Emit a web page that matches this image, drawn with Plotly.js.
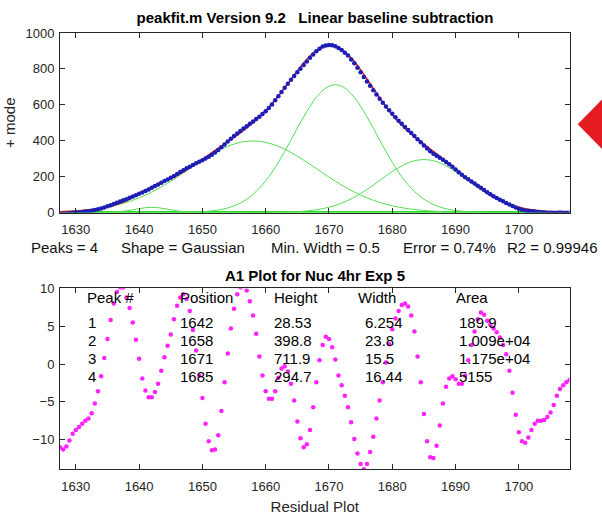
<!DOCTYPE html>
<html>
<head>
<meta charset="utf-8">
<script src="https://cdn.plot.ly/plotly-3.0.1.min.js"></script>
<style>
html,body{margin:0;padding:0;background:#fff;}
#chart{width:602px;height:516px;}
</style>
</head>
<body>
<div id="chart"></div>
<script>
// ---------- DATA ----------
const sampleX = [1627.5,1628,1628.5,1629,1629.5,1630,1630.5,1631,1631.5,1632,1632.5,1633,1633.5,1634,1634.5,1635,1635.5,1636,1636.5,1637,1637.5,1638,1638.5,1639,1639.5,1640,1640.5,1641,1641.5,1642,1642.5,1643,1643.5,1644,1644.5,1645,1645.5,1646,1646.5,1647,1647.5,1648,1648.5,1649,1649.5,1650,1650.5,1651,1651.5,1652,1652.5,1653,1653.5,1654,1654.5,1655,1655.5,1656,1656.5,1657,1657.5,1658,1658.5,1659,1659.5,1660,1660.5,1661,1661.5,1662,1662.5,1663,1663.5,1664,1664.5,1665,1665.5,1666,1666.5,1667,1667.5,1668,1668.5,1669,1669.5,1670,1670.5,1671,1671.5,1672,1672.5,1673,1673.5,1674,1674.5,1675,1675.5,1676,1676.5,1677,1677.5,1678,1678.5,1679,1679.5,1680,1680.5,1681,1681.5,1682,1682.5,1683,1683.5,1684,1684.5,1685,1685.5,1686,1686.5,1687,1687.5,1688,1688.5,1689,1689.5,1690,1690.5,1691,1691.5,1692,1692.5,1693,1693.5,1694,1694.5,1695,1695.5,1696,1696.5,1697,1697.5,1698,1698.5,1699,1699.5,1700,1700.5,1701,1701.5,1702,1702.5,1703,1703.5,1704,1704.5,1705,1705.5,1706,1706.5,1707,1707.5,1708];

const measured = [-6.8,-6.4,-5.2,-3.6,-1.7,-0.1,1.6,3.4,5.4,7.4,
10.1,13.6,17.8,22.5,28.2,34.2,40.9,47.5,54.6,61.0,
68.2,74.3,81.7,88.7,96.4,103.9,111.4,120.0,128.6,138.0,
147.2,156.6,165.9,175.2,184.3,193.4,203.8,214.1,225.2,235.6,
245.9,255.3,264.6,273.7,282.5,291.7,300.6,310.6,321.7,334.2,
348.2,363.6,379.5,395.5,411.1,426.0,440.6,454.3,467.9,480.8,
494.0,506.7,520.3,533.3,548.5,564.2,582.7,602.3,624.7,647.9,
671.8,694.9,717.6,739.4,760.5,781.0,800.6,821.3,841.0,862.1,
880.3,898.9,912.5,924.2,930.6,933.4,931.7,926.4,916.5,905.7,
889.9,874.0,852.5,830.8,805.8,781.3,755.2,730.4,705.7,681.3,
657.8,634.2,612.1,590.1,570.0,549.5,530.8,511.6,494.5,476.7,
460.3,443.1,426.5,408.6,391.5,373.6,356.6,341.1,327.6,315.7,
304.6,293.7,281.8,268.7,254.6,239.8,224.6,210.0,196.9,184.6,
172.9,160.9,149.6,137.5,125.4,112.8,101.8,90.7,81.1,71.3,
62.5,53.5,45.0,35.8,27.8,20.3,15.1,10.9,8.6,6.5,
5.0,3.1,1.5,-0.1,-0.9,-1.5,-1.3,-1.0,-0.6,-0.7,
-0.7,-0.8];

const residual = [-11.0,-11.3,-10.9,-10.1,-9.2,-8.7,-8.3,-7.9,-7.5,-7.2,
-6.5,-5.2,-3.6,-1.6,0.8,3.3,5.8,8.0,9.5,10.1,
10.1,8.8,7.4,5.5,3.2,0.7,-1.9,-3.5,-4.4,-4.4,
-3.7,-2.6,-0.9,0.9,2.4,3.9,5.9,7.7,8.8,9.2,
8.6,7.0,4.5,1.8,-1.5,-4.5,-7.9,-10.2,-11.4,-11.3,
-9.4,-6.2,-2.4,1.4,4.7,7.3,9.2,10.1,10.3,9.7,
8.3,6.4,4.0,1.0,-1.5,-3.6,-4.6,-4.6,-3.6,-1.8,
-0.6,-0.3,-1.0,-2.6,-4.8,-7.6,-9.8,-11.0,-10.6,-8.7,
-5.7,-2.4,0.5,2.5,3.6,3.3,2.2,0.6,-1.5,-2.8,
-4.2,-5.7,-7.7,-9.9,-11.8,-13.2,-13.9,-13.2,-11.6,-9.6,
-7.2,-4.8,-2.4,0.2,2.6,4.6,6.0,7.0,7.8,8.0,
7.6,6.4,4.3,1.0,-2.4,-6.6,-10.2,-12.3,-12.4,-10.8,
-8.1,-5.2,-3.0,-1.9,-1.6,-2.0,-2.6,-2.6,-1.5,0.5,
2.5,4.3,5.9,6.8,6.5,5.7,5.2,4.7,4.2,3.5,
2.5,1.3,-0.9,-3.8,-6.7,-9.0,-10.2,-10.4,-9.7,-8.7,
-7.9,-7.5,-7.5,-7.4,-7.0,-6.4,-5.4,-4.2,-3.3,-2.8,
-2.4,-2.1];

const fitX = [1627,1628,1629,1630,1631,1632,1633,1634,1635,1636,1637,1638,1639,1640,1641,1642,1643,1644,1645,1646,1647,1648,1649,1650,1651,1652,1653,1654,1655,1656,1657,1658,1659,1660,1661,1662,1663,1664,1665,1666,1667,1668,1669,1670,1671,1672,1673,1674,1675,1676,1677,1678,1679,1680,1681,1682,1683,1684,1685,1686,1687,1688,1689,1690,1691,1692,1693,1694,1695,1696,1697,1698,1699,1700,1701,1702,1703,1704,1705,1706,1707,1708];

const fitTotal = [3.6,4.9,6.5,8.6,11.3,14.6,18.8,24.1,30.9,39.5,
50.9,65.5,83.2,103.2,123.5,142.4,159.2,174.3,189.5,206.4,
226.4,248.3,271.9,296.2,320.8,345.5,369.8,394.1,418.7,444.2,
471.1,500.3,532.3,567.8,606.9,649.7,695.2,742.0,788.6,832.3,
870.8,901.3,921.7,930.1,925.8,908.5,879.7,840.7,794.5,743.6,
690.9,639.0,589.9,544.9,504.6,468.7,436.7,407.6,380.2,353.4,
326.5,298.9,270.6,241.8,212.6,184.1,156.6,130.7,107.1,86.0,
67.8,52.2,39.6,29.3,21.3,15.2,10.6,7.3,4.9,3.2,
2.1,1.3];

const peak1 = [0,0,0,0,0,0,0.1,0.3,0.9,2.2,
4.9,9.2,15.1,21.5,26.6,28.5,26.6,21.5,15.1,9.2,
4.9,2.2,0.9,0.3,0.1,0,0,0,0,0,
0,0,0,0,0,0,0,0,0,0,
0,0,0,0,0,0,0,0,0,0,
0,0,0,0,0,0,0,0,0,0,
0,0,0,0,0,0,0,0,0,0,
0,0,0,0,0,0,0,0,0,0,
0,0];

const peak2 = [3.6,4.9,6.5,8.6,11.3,14.6,18.7,23.8,30.0,37.3,
46.0,56.3,68.1,81.7,96.9,113.9,132.6,152.8,174.4,197.1,
220.6,244.5,268.3,291.5,313.8,334.4,352.9,368.8,381.6,391.1,
396.9,398.8,396.9,391.1,381.6,368.8,352.9,334.4,313.8,291.5,
268.3,244.5,220.6,197.1,174.4,152.8,132.6,113.9,96.9,81.7,
68.1,56.3,46.0,37.3,30.0,23.8,18.7,14.6,11.3,8.6,
6.5,4.9,3.6,2.7,1.9,1.4,1.0,0.7,0.5,0.3,
0.2,0.1,0,0,0,0,0,0,0,0,
0,0];

const peak3 = [0,0,0,0,0,0,0,0,0,0,
0,0,0,0,0,0,0,0,0.1,0.3,
0.9,1.6,2.7,4.4,7.0,11.1,16.9,25.3,37.1,53.1,
74.2,101.3,135.1,176.2,224.5,279.6,340.2,404.4,469.9,533.5,
591.9,641.6,679.8,703.7,711.9,703.7,679.8,641.6,591.9,533.5,
469.9,404.4,340.2,279.6,224.5,176.2,135.1,101.3,74.2,53.1,
37.1,25.3,16.9,11.1,7.0,4.4,2.7,1.6,0.9,0.5,
0.3,0.1,0,0,0,0,0,0,0,0,
0,0];

const peak4 = [0,0,0,0,0,0,0,0,0,0,
0,0,0,0,0,0,0,0,0,0,
0,0,0,0,0,0,0,0,0,0,
0,0.2,0.3,0.5,0.8,1.3,2.1,3.2,4.9,7.3,
10.6,15.2,21.3,29.3,39.5,52.0,67.3,85.2,105.7,128.4,
152.9,178.3,203.7,228.0,250.1,268.7,282.9,291.7,294.7,291.7,
282.9,268.7,250.1,228.0,203.7,178.3,152.9,128.4,105.7,85.2,
67.3,52.0,39.5,29.3,21.3,15.2,10.6,7.3,4.9,3.2,
2.1,1.3];

const baselineLevel = 0;

const xTickVals = [1630,1640,1650,1660,1670,1680,1690,1700];
const yTopTickVals = [0,200,400,600,800,1000];
const yBotTickVals = [-10,-5,0,5,10];

const tableHeaders = ['Peak #','Position','Height','Width','Area'];
const peakNumber = [1,2,3,4];
const peakPosition = [1642,1658,1671,1685];
const peakHeight = [28.53,398.8,711.9,294.7];
const peakWidth = [6.254,23.8,15.5,16.44];
const peakArea = [189.9,10090,11750,5155];

const statsTexts = ['Peaks = 4','Shape = Gaussian','Min. Width = 0.5','Error = 0.74%','R2 = 0.99946'];

const topTitle = 'peakfit.m Version 9.2   Linear baseline subtraction';
const bottomTitle = 'A1 Plot for Nuc 4hr Exp 5';
const yTopTitle = '+ mode';
const xBotTitle = 'Residual Plot';

// ---------- LAYOUT HELPERS ----------
const W = 602, H = 516;
const px = v => v / W;
const py = v => 1 - v / H;
const FONT = 'Liberation Sans, Arial, Helvetica, sans-serif';
const AX = '#262626';

function fmtG(v) {
  if (Math.abs(v) >= 1e4) {
    let s = v.toExponential(3);
    return s.replace(/e([+-])(\d)$/, 'e$10$2');
  }
  return String(v);
}

const greenComp = '#55dd55';

const traces = [
  {x: fitX, y: fitX.map(() => baselineLevel), xaxis: 'x', yaxis: 'y', mode: 'lines',
   line: {color: '#22dd22', width: 3}, hoverinfo: 'skip'},
  {x: fitX, y: peak1, xaxis: 'x', yaxis: 'y', mode: 'lines', line: {color: greenComp, width: 1, shape: 'spline'}},
  {x: fitX, y: peak2, xaxis: 'x', yaxis: 'y', mode: 'lines', line: {color: greenComp, width: 1, shape: 'spline'}},
  {x: fitX, y: peak3, xaxis: 'x', yaxis: 'y', mode: 'lines', line: {color: greenComp, width: 1, shape: 'spline'}},
  {x: fitX, y: peak4, xaxis: 'x', yaxis: 'y', mode: 'lines', line: {color: greenComp, width: 1, shape: 'spline'}},
  {x: fitX, y: fitTotal, xaxis: 'x', yaxis: 'y', mode: 'lines', line: {color: '#e8241c', width: 1.6, shape: 'spline'}},
  {x: sampleX, y: measured, xaxis: 'x', yaxis: 'y', mode: 'markers',
   marker: {color: '#1d1db8', size: 4.5}},
  {x: sampleX, y: residual, xaxis: 'x2', yaxis: 'y2', mode: 'markers',
   marker: {color: '#ff22ff', size: 4.5}}
];

const xDom = [px(60), px(569.5)];
const commonAxis = {
  showline: true, linecolor: AX, linewidth: 1, mirror: 'ticks',
  ticks: 'inside', ticklen: 5, tickcolor: AX, tickwidth: 1,
  showgrid: false, zeroline: false,
  tickfont: {family: FONT, size: 13, color: AX}
};
const xAxisExtra = {ticklabelstandoff: 5};
const yAxisExtra = {ticklabelstandoff: 2};

const annotations = [];
annotations.push({text: '<b>' + bottomTitle + '</b>', xref: 'paper', yref: 'paper',
  x: px(315), y: py(275), xanchor: 'center', yanchor: 'middle', showarrow: false,
  font: {family: FONT, size: 15, color: '#000'}});

const statX = [29, 119, 269, 401, 505];
statsTexts.forEach((t, i) => annotations.push({text: t, xref: 'paper', yref: 'paper',
  x: px(statX[i]), y: py(248), xanchor: 'left', yanchor: 'middle', showarrow: false,
  font: {family: FONT, size: 15, color: '#111'}}));

const headX = [85, 178, 272, 356, 454];
const valX = [86, 178, 272, 363, 457];
const rowY = [322, 340, 358, 376];
tableHeaders.forEach((t, i) => annotations.push({text: t, xref: 'paper', yref: 'paper',
  x: px(headX[i]), y: py(297), xanchor: 'left', yanchor: 'middle', showarrow: false,
  font: {family: FONT, size: 15, color: '#000'}}));
const cols = [peakNumber, peakPosition, peakHeight, peakWidth, peakArea];
cols.forEach((col, c) => col.forEach((v, r) => annotations.push({text: fmtG(v),
  xref: 'paper', yref: 'paper', x: px(valX[c]), y: py(rowY[r]), xanchor: 'left', yanchor: 'middle',
  showarrow: false, font: {family: FONT, size: 15, color: '#000'}})));

const layout = {
  width: W, height: H,
  margin: {l: 0, r: 0, t: 0, b: 0},
  paper_bgcolor: '#fff', plot_bgcolor: '#fff',
  showlegend: false,
  title: {text: '<b>' + topTitle + '</b>', x: px(315), y: py(18), xanchor: 'center', yanchor: 'middle',
    xref: 'paper', yref: 'paper', font: {family: FONT, size: 15, color: '#000'}},
  xaxis: Object.assign({}, commonAxis, xAxisExtra, {domain: xDom, anchor: 'y', range: [1627.5, 1708], tickvals: xTickVals}),
  yaxis: Object.assign({}, commonAxis, yAxisExtra, {domain: [py(212.5), py(33)], anchor: 'x', range: [0, 1000], tickvals: yTopTickVals,
    title: {text: yTopTitle, font: {family: FONT, size: 15, color: AX}, standoff: 6}}),
  xaxis2: Object.assign({}, commonAxis, xAxisExtra, {domain: xDom, anchor: 'y2', range: [1627.5, 1708], tickvals: xTickVals,
    title: {text: xBotTitle, font: {family: FONT, size: 15, color: AX}, standoff: 8}}),
  yaxis2: Object.assign({}, commonAxis, yAxisExtra, {domain: [py(469.3), py(288.3)], anchor: 'x2', range: [-13.9, 10], tickvals: yBotTickVals}),
  annotations: annotations,
  shapes: [{type: 'path', xref: 'paper', yref: 'paper',
    path: 'M ' + px(577.7) + ' ' + py(124.3) + ' L 1 ' + py(99.5) + ' L 1 ' + py(149) + ' Z',
    fillcolor: '#e41c22', line: {width: 0}}]
};

Plotly.newPlot('chart', traces, layout, {displayModeBar: false, staticPlot: true});
</script>
</body>
</html>
